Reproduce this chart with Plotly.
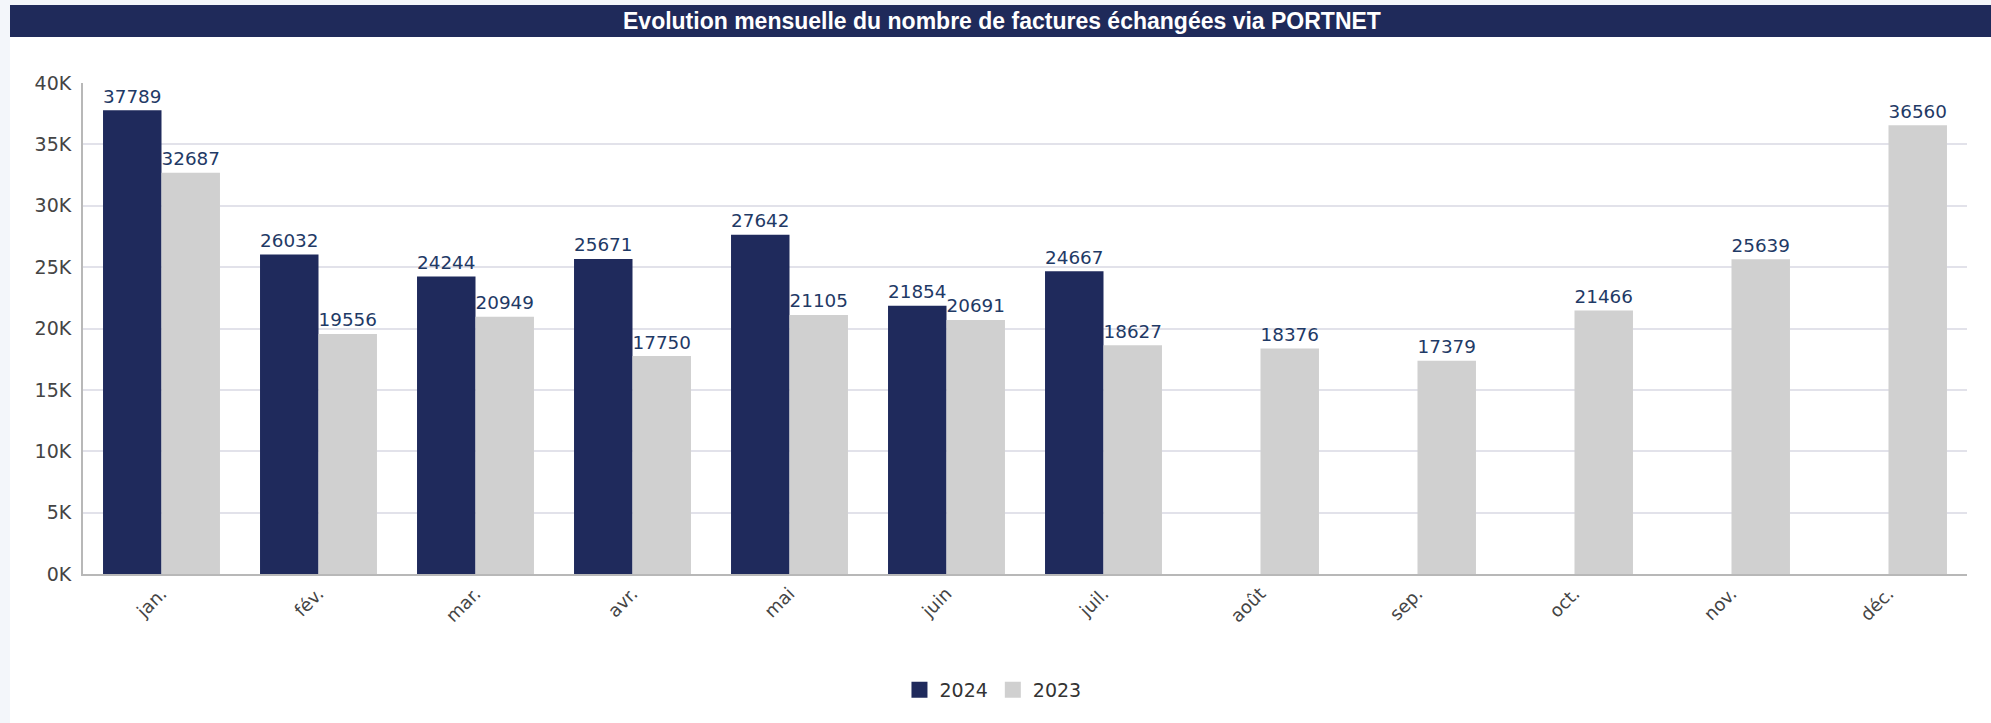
import plotly.graph_objects as go

months = ["jan.", "fév.", "mar.", "avr.", "mai", "juin", "juil.", "août", "sep.", "oct.", "nov.", "déc."]
values_2024 = [37789, 26032, 24244, 25671, 27642, 21854, 24667, None, None, None, None, None]
values_2023 = [32687, 19556, 20949, 17750, 21105, 20691, 18627, 18376, 17379, 21466, 25639, 36560]
y_ticks = [0, 5000, 10000, 15000, 20000, 25000, 30000, 35000, 40000]
y_tick_labels = ["0K", "5K", "10K", "15K", "20K", "25K", "30K", "35K", "40K"]
title = "Evolution mensuelle du nombre de factures échangées via PORTNET"
series_names = ["2024", "2023"]
series_colors = ["#1F2A5C", "#D0D0D0"]

W, H = 1991, 723
label_font = dict(family="DejaVu Sans", size=20, color="#1F3A66")

fig = go.Figure()
for name, vals, col in zip(series_names, [values_2024, values_2023], series_colors):
    fig.add_trace(go.Bar(
        name=name, x=months, y=vals, showlegend=False,
        marker=dict(color=col, line=dict(width=0)),
        text=[str(v) if v is not None else "" for v in vals],
        textposition="outside", textfont=label_font, cliponaxis=False,
    ))
# legend entries with larger square swatches
for name, col in zip(series_names, series_colors):
    fig.add_trace(go.Scatter(
        name=name, x=[None], y=[None], mode="markers",
        marker=dict(symbol="square", size=19, color=col), showlegend=True,
    ))

l, r, t, b = 83, 24, 83, 149
pw, ph = W - l - r, H - t - b

def px_to_paper_x(px):
    return (px - l) / pw

def px_to_paper_y(py):
    return (H - b - py) / ph

shapes = [
    dict(type="rect", xref="paper", yref="paper", layer="below",
         x0=px_to_paper_x(0), x1=px_to_paper_x(10), y0=px_to_paper_y(H), y1=px_to_paper_y(0),
         fillcolor="#F3F6FA", line=dict(width=0)),
    dict(type="rect", xref="paper", yref="paper", layer="below",
         x0=px_to_paper_x(0), x1=px_to_paper_x(W), y0=px_to_paper_y(5), y1=px_to_paper_y(0),
         fillcolor="#F3F6FA", line=dict(width=0)),
    dict(type="rect", xref="paper", yref="paper", layer="below",
         x0=px_to_paper_x(10), x1=px_to_paper_x(W), y0=px_to_paper_y(37), y1=px_to_paper_y(5),
         fillcolor="#1F2A5A", line=dict(width=0)),
]

fig.update_layout(
    width=W, height=H,
    margin=dict(l=l, r=r, t=t, b=b, autoexpand=False),
    paper_bgcolor="white", plot_bgcolor="white",
    barmode="group", bargap=0.255, bargroupgap=0,
    shapes=shapes,
    annotations=[dict(
        text="<b>" + title + "</b>", xref="paper", yref="paper",
        x=px_to_paper_x(1002), y=px_to_paper_y(21), xanchor="center", yanchor="middle",
        showarrow=False, font=dict(family="Liberation Sans Narrow, Liberation Sans, Arial", size=23, color="white"),
    )],
    xaxis=dict(
        tickangle=-45, tickfont=dict(family="DejaVu Sans", size=18, color="#444444"),
        showline=True, linecolor="#B8B8B8", linewidth=2, ticks="", showgrid=False,
    ),
    yaxis=dict(
        range=[0, 40000], tickvals=y_ticks, ticktext=y_tick_labels,
        tickfont=dict(family="DejaVu Sans", size=19, color="#444444"),
        showline=True, linecolor="#B8B8B8", linewidth=2,
        gridcolor="#E2E2EA", gridwidth=2, zeroline=False, ticks="", ticklabelstandoff=6,
    ),
    legend=dict(
        orientation="h", x=0.483, y=px_to_paper_y(690), xanchor="center", yanchor="middle",
        font=dict(family="DejaVu Sans", size=19, color="#333333"), itemwidth=30,
    ),
    showlegend=True,
)

fig.write_html(
    "out.html",
    config={"displayModeBar": False},
    post_script="document.body.style.margin='0';document.body.style.overflow='hidden';",
)
